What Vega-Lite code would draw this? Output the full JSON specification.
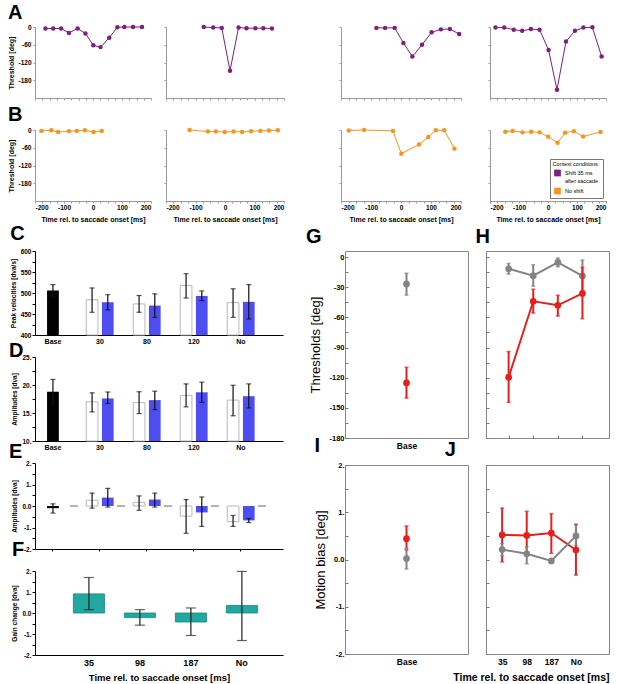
{
"$schema": "https://vega.github.io/schema/vega-lite/v6.json",
"background": "white",
"padding": {"left": 7, "top": 3, "right": 2, "bottom": 2},
"spacing": 1,
"resolve": {"scale": {"color": "independent"}, "legend": {"color": "independent"}},
"config": {
  "font": "Liberation Sans",
  "view": {"stroke": null},
  "axis": {"grid": false, "labelFont": "Liberation Sans", "titleFont": "Liberation Sans", "labelFontWeight": "bold", "titleFontWeight": "bold", "labelColor": "#000", "titleColor": "#000", "domainColor": "#555", "tickColor": "#555", "labelFontSize": 6.5, "titleFontSize": 7, "labelOverlap": false},
  "title": {"fontSize": 20, "fontWeight": "bold", "anchor": "start", "frame": "bounds", "color": "#000", "offset": 4, "font": "Liberation Sans"}
},
"datasets": {
  "a1": [{"t":-164,"thr":-5},{"t":-137,"thr":-5},{"t":-110,"thr":-5},{"t":-83,"thr":-20},{"t":-53,"thr":-5},{"t":-26,"thr":-22},{"t":1,"thr":-62},{"t":26,"thr":-68},{"t":56,"thr":-36},{"t":84,"thr":-1},{"t":108,"thr":0},{"t":138,"thr":0},{"t":169,"thr":0}],
  "a2": [{"t":-72,"thr":0},{"t":-40,"thr":-2},{"t":-11,"thr":-3},{"t":17,"thr":-148},{"t":46,"thr":-2},{"t":73,"thr":-4},{"t":103,"thr":-4},{"t":130,"thr":-4},{"t":159,"thr":-5}],
  "a3": [{"t":-82,"thr":-3},{"t":-53,"thr":-3},{"t":-21,"thr":-3},{"t":8,"thr":-54},{"t":38,"thr":-100},{"t":70,"thr":-60},{"t":102,"thr":-18},{"t":133,"thr":-8},{"t":163,"thr":-7},{"t":194,"thr":-24}],
  "a4": [{"t":-181,"thr":-2},{"t":-151,"thr":-2},{"t":-118,"thr":-9},{"t":-89,"thr":-13},{"t":-59,"thr":-7},{"t":-29,"thr":-9},{"t":2,"thr":-78},{"t":31,"thr":-212},{"t":62,"thr":-49},{"t":93,"thr":-13},{"t":122,"thr":-2},{"t":153,"thr":-1},{"t":185,"thr":-100}],
  "b1": [{"t":-178,"thr":-3},{"t":-144,"thr":-1},{"t":-120,"thr":-7},{"t":-83,"thr":-4},{"t":-56,"thr":-3},{"t":-28,"thr":-1},{"t":2,"thr":-7},{"t":30,"thr":-3}],
  "b2": [{"t":-120,"thr":0},{"t":-58,"thr":-5},{"t":-31,"thr":-5},{"t":-1,"thr":-7},{"t":29,"thr":-5},{"t":58,"thr":-7},{"t":88,"thr":-4},{"t":120,"thr":-3},{"t":149,"thr":-2},{"t":179,"thr":-1}],
  "b3": [{"t":-174,"thr":-2},{"t":-123,"thr":0},{"t":-27,"thr":-3},{"t":1,"thr":-80},{"t":60,"thr":-49},{"t":91,"thr":-24},{"t":116,"thr":-1},{"t":144,"thr":-1},{"t":178,"thr":-63}],
  "b4": [{"t":-147,"thr":-6},{"t":-122,"thr":-3},{"t":-88,"thr":-8},{"t":-58,"thr":-6},{"t":-29,"thr":-8},{"t":1,"thr":-23},{"t":33,"thr":-43},{"t":59,"thr":-9},{"t":89,"thr":-4},{"t":121,"thr":-22},{"t":181,"thr":-7}],
  "c": [{"group":"Base","cond":"base","v":506,"lo":490,"hi":520},{"group":"30","cond":"ctrl","v":484,"lo":454,"hi":512},{"group":"30","cond":"shift","v":478,"lo":460,"hi":496},{"group":"80","cond":"ctrl","v":474,"lo":454,"hi":494},{"group":"80","cond":"shift","v":470,"lo":442,"hi":498},{"group":"120","cond":"ctrl","v":518,"lo":488,"hi":546},{"group":"120","cond":"shift","v":493,"lo":482,"hi":505},{"group":"No","cond":"ctrl","v":477,"lo":442,"hi":510},{"group":"No","cond":"shift","v":479,"lo":438,"hi":520}],
  "d": [{"group":"Base","cond":"base","v":18.8,"lo":16.6,"hi":21.0},{"group":"30","cond":"ctrl","v":17.0,"lo":15.2,"hi":18.6},{"group":"30","cond":"shift","v":17.6,"lo":16.7,"hi":18.75},{"group":"80","cond":"ctrl","v":16.85,"lo":14.9,"hi":18.8},{"group":"80","cond":"shift","v":17.3,"lo":15.6,"hi":18.9},{"group":"120","cond":"ctrl","v":18.15,"lo":16.1,"hi":20.2},{"group":"120","cond":"shift","v":18.7,"lo":16.9,"hi":20.5},{"group":"No","cond":"ctrl","v":17.3,"lo":14.5,"hi":19.95},{"group":"No","cond":"shift","v":18.0,"lo":15.9,"hi":20.2}],
  "e": [{"group":"Base","cond":"base","v":-0.1,"lo":-0.33,"hi":0.1},{"group":"30","cond":"ctrl","v":0.27,"lo":-0.1,"hi":0.6},{"group":"30","cond":"shift","v":0.39,"lo":-0.05,"hi":0.82},{"group":"80","cond":"ctrl","v":0.17,"lo":-0.2,"hi":0.47},{"group":"80","cond":"shift","v":0.3,"lo":-0.05,"hi":0.6},{"group":"120","cond":"ctrl","v":-0.47,"lo":-1.27,"hi":0.3},{"group":"120","cond":"shift","v":-0.3,"lo":-0.95,"hi":0.42},{"group":"No","cond":"ctrl","v":-0.72,"lo":-0.95,"hi":-0.44},{"group":"No","cond":"shift","v":-0.67,"lo":-0.77,"hi":-0.58}],
  "f": [{"group":"35","v":0.91,"lo":0.16,"hi":1.69},{"group":"98","v":-0.22,"lo":-0.58,"hi":0.16},{"group":"187","v":-0.43,"lo":-1.07,"hi":0.24},{"group":"No","v":0.36,"lo":-1.31,"hi":1.98}],
  "g": [{"group":"Base","s":"gray","v":-26.8,"lo":-37.9,"hi":-16.1},{"group":"Base","s":"red","v":-125.2,"lo":-140.3,"hi":-109.7}],
  "h": [{"group":"35","s":"gray","v":-11.7,"lo":-17,"hi":-6.4},{"group":"98","s":"gray","v":-18.5,"lo":-29,"hi":-7.7},{"group":"187","s":"gray","v":-5.4,"lo":-9.7,"hi":-1},{"group":"No","s":"gray","v":-18.8,"lo":-34,"hi":-3},{"group":"35","s":"red","v":-119.5,"lo":-144.6,"hi":-94},{"group":"98","s":"red","v":-44,"lo":-55.7,"hi":-32},{"group":"187","s":"red","v":-48,"lo":-58.7,"hi":-38},{"group":"No","s":"red","v":-36.2,"lo":-61.4,"hi":-10.4}],
  "i": [{"group":"Base","s":"red","v":0.44,"lo":0.2,"hi":0.71},{"group":"Base","s":"gray","v":0.02,"lo":-0.2,"hi":0.24}],
  "j": [{"group":"35","s":"red","v":0.52,"lo":-0.05,"hi":1.09},{"group":"98","s":"red","v":0.51,"lo":0.1,"hi":1.02},{"group":"187","s":"red","v":0.56,"lo":0.13,"hi":0.97},{"group":"No","s":"red","v":0.2,"lo":-0.33,"hi":0.75},{"group":"35","s":"gray","v":0.21,"lo":0.08,"hi":0.34},{"group":"98","s":"gray","v":0.12,"lo":-0.09,"hi":0.27},{"group":"187","s":"gray","v":-0.03,"lo":-0.06,"hi":0.0},{"group":"No","s":"gray","v":0.5,"lo":0.3,"hi":0.73}]
},
"vconcat": [
 {"spacing": 53,
  "resolve": {"scale": {"color": "independent"}, "legend": {"color": "independent"}},
  "hconcat": [
   {"bounds": "flush", "columns": 2, "spacing": {"row": 32, "column": 15},
    "concat": [
       {"width": 116, "height": 71, "title": {"text": "A", "offset": 1}, "data": {"name": "a1"},
        "encoding": {
          "x": {"field": "t", "type": "quantitative", "scale": {"domain": [-200, 200], "nice": false}, "axis": {"values": [-200,-175,-150,-125,-100,-75,-50,-25,0,25,50,75,100,125,150,175,200], "labels": false, "title": null, "tickSize": 2, "domainColor": "#999", "tickColor": "#999"}},
          "y": {"field": "thr", "type": "quantitative", "scale": {"domain": [-240, 0], "nice": false}, "axis": {"values": [0,-60,-120,-180], "labelExpr": "replace(datum.label, '−', '-')", "title": "Threshold [deg]", "titlePadding": 3, "labelPadding": 2, "tickSize": 2, "domainColor": "#999", "tickColor": "#999"}}
        },
        "layer": [
          {"mark": {"type": "line", "color": "#7E1E80", "strokeWidth": 1}, "encoding": {}},
          {"mark": {"type": "circle", "color": "#7E1E80", "size": 20, "opacity": 1}, "encoding": {}}
        ]},
       {"width": 118, "height": 71, "data": {"name": "a2"},
        "encoding": {
          "x": {"field": "t", "type": "quantitative", "scale": {"domain": [-200, 200], "nice": false}, "axis": {"values": [-200,-175,-150,-125,-100,-75,-50,-25,0,25,50,75,100,125,150,175,200], "labels": false, "title": null, "tickSize": 2, "domainColor": "#999", "tickColor": "#999"}},
          "y": {"field": "thr", "type": "quantitative", "scale": {"domain": [-240, 0], "nice": false}, "axis": {"values": [0,-60,-120,-180], "labels": false, "title": null, "tickSize": 2, "domainColor": "#999", "tickColor": "#999"}}
        },
        "layer": [
          {"mark": {"type": "line", "color": "#7E1E80", "strokeWidth": 1}, "encoding": {}},
          {"mark": {"type": "circle", "color": "#7E1E80", "size": 20, "opacity": 1}, "encoding": {}}
        ]},
       {"width": 116, "height": 71, "title": {"text": "B", "offset": 2}, "data": {"name": "b1"},
        "encoding": {
          "x": {"field": "t", "type": "quantitative", "scale": {"domain": [-200, 200], "nice": false}, "axis": {"values": [-200,-175,-150,-125,-100,-75,-50,-25,0,25,50,75,100,125,150,175,200], "labelExpr": "datum.value % 100 === 0 ? replace(datum.label, '−', '-') : ''", "labelPadding": 1, "title": "Time rel. to saccade onset [ms]", "titlePadding": 5, "tickSize": 2, "domainColor": "#999", "tickColor": "#999"}},
          "y": {"field": "thr", "type": "quantitative", "scale": {"domain": [-240, 0], "nice": false}, "axis": {"values": [0,-60,-120,-180], "labelExpr": "replace(datum.label, '−', '-')", "title": "Threshold [deg]", "titlePadding": 3, "labelPadding": 2, "tickSize": 2, "domainColor": "#999", "tickColor": "#999"}}
        },
        "layer": [
          {"mark": {"type": "line", "color": "#F7941E", "strokeWidth": 1}, "encoding": {}},
          {"mark": {"type": "circle", "color": "#F7941E", "size": 20, "opacity": 1}, "encoding": {}}
        ]},
       {"width": 118, "height": 71, "data": {"name": "b2"},
        "encoding": {
          "x": {"field": "t", "type": "quantitative", "scale": {"domain": [-200, 200], "nice": false}, "axis": {"values": [-200,-175,-150,-125,-100,-75,-50,-25,0,25,50,75,100,125,150,175,200], "labelExpr": "datum.value % 100 === 0 ? replace(datum.label, '−', '-') : ''", "labelPadding": 1, "title": "Time rel. to saccade onset [ms]", "titlePadding": 5, "tickSize": 2, "domainColor": "#999", "tickColor": "#999"}},
          "y": {"field": "thr", "type": "quantitative", "scale": {"domain": [-240, 0], "nice": false}, "axis": {"values": [0,-60,-120,-180], "labels": false, "title": null, "tickSize": 2, "domainColor": "#999", "tickColor": "#999"}}
        },
        "layer": [
          {"mark": {"type": "line", "color": "#F7941E", "strokeWidth": 1}, "encoding": {}},
          {"mark": {"type": "circle", "color": "#F7941E", "size": 20, "opacity": 1}, "encoding": {}}
        ]}
    ]},
   {"bounds": "flush", "columns": 2, "spacing": {"row": 32, "column": 29},
    "resolve": {"scale": {"color": "independent"}, "legend": {"color": "independent"}},
    "concat": [
       {"width": 120, "height": 71, "data": {"name": "a3"},
        "encoding": {
          "x": {"field": "t", "type": "quantitative", "scale": {"domain": [-200, 200], "nice": false}, "axis": {"values": [-200,-175,-150,-125,-100,-75,-50,-25,0,25,50,75,100,125,150,175,200], "labels": false, "title": null, "tickSize": 2, "domainColor": "#999", "tickColor": "#999"}},
          "y": {"field": "thr", "type": "quantitative", "scale": {"domain": [-240, 0], "nice": false}, "axis": {"values": [0,-60,-120,-180], "labels": false, "title": null, "tickSize": 2, "domainColor": "#999", "tickColor": "#999"}}
        },
        "layer": [
          {"mark": {"type": "line", "color": "#7E1E80", "strokeWidth": 1}, "encoding": {}},
          {"mark": {"type": "circle", "color": "#7E1E80", "size": 20, "opacity": 1}, "encoding": {}}
        ]},
       {"width": 116, "height": 71, "data": {"name": "a4"},
        "encoding": {
          "x": {"field": "t", "type": "quantitative", "scale": {"domain": [-200, 200], "nice": false}, "axis": {"values": [-200,-175,-150,-125,-100,-75,-50,-25,0,25,50,75,100,125,150,175,200], "labels": false, "title": null, "tickSize": 2, "domainColor": "#999", "tickColor": "#999"}},
          "y": {"field": "thr", "type": "quantitative", "scale": {"domain": [-240, 0], "nice": false}, "axis": {"values": [0,-60,-120,-180], "labels": false, "title": null, "tickSize": 2, "domainColor": "#999", "tickColor": "#999"}}
        },
        "layer": [
          {"mark": {"type": "line", "color": "#7E1E80", "strokeWidth": 1}, "encoding": {}},
          {"mark": {"type": "circle", "color": "#7E1E80", "size": 20, "opacity": 1}, "encoding": {}}
        ]},
       {"width": 120, "height": 71, "data": {"name": "b3"},
        "encoding": {
          "x": {"field": "t", "type": "quantitative", "scale": {"domain": [-200, 200], "nice": false}, "axis": {"values": [-200,-175,-150,-125,-100,-75,-50,-25,0,25,50,75,100,125,150,175,200], "labelExpr": "datum.value % 100 === 0 ? replace(datum.label, '−', '-') : ''", "labelPadding": 1, "title": "Time rel. to saccade onset [ms]", "titlePadding": 5, "tickSize": 2, "domainColor": "#999", "tickColor": "#999"}},
          "y": {"field": "thr", "type": "quantitative", "scale": {"domain": [-240, 0], "nice": false}, "axis": {"values": [0,-60,-120,-180], "labels": false, "title": null, "tickSize": 2, "domainColor": "#999", "tickColor": "#999"}}
        },
        "layer": [
          {"mark": {"type": "line", "color": "#F7941E", "strokeWidth": 1}, "encoding": {}},
          {"mark": {"type": "circle", "color": "#F7941E", "size": 20, "opacity": 1}, "encoding": {}}
        ]},
       {"width": 116, "height": 71, "data": {"name": "b4"},
        "encoding": {
          "x": {"field": "t", "type": "quantitative", "scale": {"domain": [-200, 200], "nice": false}, "axis": {"values": [-200,-175,-150,-125,-100,-75,-50,-25,0,25,50,75,100,125,150,175,200], "labelExpr": "datum.value % 100 === 0 ? replace(datum.label, '−', '-') : ''", "labelPadding": 1, "title": "Time rel. to saccade onset [ms]", "titlePadding": 5, "tickSize": 2, "domainColor": "#999", "tickColor": "#999"}},
          "y": {"field": "thr", "type": "quantitative", "scale": {"domain": [-240, 0], "nice": false}, "axis": {"values": [0,-60,-120,-180], "labels": false, "title": null, "tickSize": 2, "domainColor": "#999", "tickColor": "#999"}}
        },
        "layer": [
          {"mark": {"type": "line", "color": "#F7941E", "strokeWidth": 1}, "encoding": {}},
          {"mark": {"type": "circle", "size": 20, "opacity": 1},
           "encoding": {"color": {"datum": "No shift", "type": "nominal",
             "scale": {"domain": ["Shift 35 ms after saccade", "No shift"], "range": ["#7E1E80", "#F7941E"]},
             "legend": {"title": "Context conditions:", "titleAnchor": "middle", "orient": "bottom-right", "offset": 3, "symbolType": "square", "symbolSize": 45, "symbolStrokeWidth": 0, "titleFontSize": 5.5, "titleFontWeight": "normal", "labelFontSize": 5.5, "labelFontWeight": "normal", "titlePadding": 2, "rowPadding": 3, "padding": 3, "strokeColor": "#777", "fillColor": "white", "labelExpr": "datum.label === 'Shift 35 ms after saccade' ? ['Shift 35 ms', 'after saccade'] : datum.label"}}}}
        ]}
    ]}
  ]},
 {"spacing": 22,
  "resolve": {"scale": {"xOffset": "independent"}},
  "hconcat": [
   {"bounds": "flush", "spacing": 22,
    "resolve": {"scale": {"xOffset": "independent"}},
    "vconcat": [
       {"width": 248, "height": 84, "title": {"text": "C", "offset": 4}, "data": {"name": "c"},
        "encoding": {
          "x": {"field": "group", "type": "nominal", "scale": {"type": "band", "domain": ["Base","30","80","120","No"], "paddingInner": 0.417, "paddingOuter": 0.347, "align": 0.13}, "axis": {"title": null, "ticks": false, "labelAngle": 0, "labelFontSize": 7, "labelPadding": 2, "domainColor": "#000"}},
          "y": {"field": "v", "type": "quantitative", "scale": {"domain": [400, 600], "nice": false, "zero": false}, "axis": {"values": [400,425,450,475,500,525,550,575,600], "labelExpr": "datum.value % 50 === 0 ? datum.label : ''", "title": "Peak velocities [dva/s]", "titleFontSize": 6.5, "titlePadding": 4, "labelPadding": 1, "tickSize": 3, "domainColor": "#000", "tickColor": "#000"}}
        },
        "layer": [
          {"transform": [{"filter": "datum.cond === 'base'"}], "mark": {"type": "bar", "color": "#000", "width": {"band": 0.43}}, "encoding": {"y2": {"datum": 400}}},
          {"transform": [{"filter": "datum.cond === 'ctrl'"}], "mark": {"type": "bar", "fill": "#fff", "stroke": "#b8b8b8", "strokeWidth": 1}, "encoding": {"xOffset": {"field": "cond", "type": "nominal", "scale": {"domain": ["ctrl","shift"], "paddingInner": 0.255, "paddingOuter": 0}}, "y2": {"datum": 400}}},
          {"transform": [{"filter": "datum.cond === 'shift'"}], "mark": {"type": "bar", "color": "#4D4DF2"}, "encoding": {"xOffset": {"field": "cond", "type": "nominal", "scale": {"domain": ["ctrl","shift"], "paddingInner": 0.255, "paddingOuter": 0}}, "y2": {"datum": 400}}},
          {"transform": [{"filter": "datum.cond === 'base'"}], "mark": {"type": "rule", "color": "#111", "strokeWidth": 1.2}, "encoding": {"y": {"field": "lo", "type": "quantitative"}, "y2": {"field": "hi"}}},
          {"transform": [{"filter": "datum.cond !== 'base'"}], "mark": {"type": "rule", "color": "#111", "strokeWidth": 1.2}, "encoding": {"xOffset": {"field": "cond", "type": "nominal", "scale": {"domain": ["ctrl","shift"], "paddingInner": 0.255, "paddingOuter": 0}}, "y": {"field": "lo", "type": "quantitative"}, "y2": {"field": "hi"}}},
          {"transform": [{"filter": "datum.cond === 'base'"}, {"fold": ["lo","hi"], "as": ["end","val"]}], "mark": {"type": "tick", "color": "#111", "thickness": 1.2, "size": 5}, "encoding": {"y": {"field": "val", "type": "quantitative"}}},
          {"transform": [{"filter": "datum.cond !== 'base'"}, {"fold": ["lo","hi"], "as": ["end","val"]}], "mark": {"type": "tick", "color": "#111", "thickness": 1.2, "size": 5}, "encoding": {"xOffset": {"field": "cond", "type": "nominal", "scale": {"domain": ["ctrl","shift"], "paddingInner": 0.255, "paddingOuter": 0}}, "y": {"field": "val", "type": "quantitative"}}}
        ]},
       {"width": 248, "height": 84, "title": {"text": "D", "offset": -7, "dx": -3}, "data": {"name": "d"},
        "encoding": {
          "x": {"field": "group", "type": "nominal", "scale": {"type": "band", "domain": ["Base","30","80","120","No"], "paddingInner": 0.417, "paddingOuter": 0.347, "align": 0.13}, "axis": {"title": null, "ticks": false, "labelAngle": 0, "labelFontSize": 7, "labelPadding": 2, "domainColor": "#000"}},
          "y": {"field": "v", "type": "quantitative", "scale": {"domain": [10, 25], "nice": false, "zero": false}, "axis": {"values": [10,12.5,15,17.5,20,22.5,25], "labelExpr": "datum.value % 5 === 0 ? format(datum.value, 'd') + '.' : ''", "title": "Amplitudes [dva]", "titleFontSize": 6.5, "titlePadding": 4, "labelPadding": 1, "tickSize": 3, "domainColor": "#000", "tickColor": "#000"}}
        },
        "layer": [
          {"transform": [{"filter": "datum.cond === 'base'"}], "mark": {"type": "bar", "color": "#000", "width": {"band": 0.43}}, "encoding": {"y2": {"datum": 10}}},
          {"transform": [{"filter": "datum.cond === 'ctrl'"}], "mark": {"type": "bar", "fill": "#fff", "stroke": "#b8b8b8", "strokeWidth": 1}, "encoding": {"xOffset": {"field": "cond", "type": "nominal", "scale": {"domain": ["ctrl","shift"], "paddingInner": 0.255, "paddingOuter": 0}}, "y2": {"datum": 10}}},
          {"transform": [{"filter": "datum.cond === 'shift'"}], "mark": {"type": "bar", "color": "#4D4DF2"}, "encoding": {"xOffset": {"field": "cond", "type": "nominal", "scale": {"domain": ["ctrl","shift"], "paddingInner": 0.255, "paddingOuter": 0}}, "y2": {"datum": 10}}},
          {"transform": [{"filter": "datum.cond === 'base'"}], "mark": {"type": "rule", "color": "#111", "strokeWidth": 1.2}, "encoding": {"y": {"field": "lo", "type": "quantitative"}, "y2": {"field": "hi"}}},
          {"transform": [{"filter": "datum.cond !== 'base'"}], "mark": {"type": "rule", "color": "#111", "strokeWidth": 1.2}, "encoding": {"xOffset": {"field": "cond", "type": "nominal", "scale": {"domain": ["ctrl","shift"], "paddingInner": 0.255, "paddingOuter": 0}}, "y": {"field": "lo", "type": "quantitative"}, "y2": {"field": "hi"}}},
          {"transform": [{"filter": "datum.cond === 'base'"}, {"fold": ["lo","hi"], "as": ["end","val"]}], "mark": {"type": "tick", "color": "#111", "thickness": 1.2, "size": 5}, "encoding": {"y": {"field": "val", "type": "quantitative"}}},
          {"transform": [{"filter": "datum.cond !== 'base'"}, {"fold": ["lo","hi"], "as": ["end","val"]}], "mark": {"type": "tick", "color": "#111", "thickness": 1.2, "size": 5}, "encoding": {"xOffset": {"field": "cond", "type": "nominal", "scale": {"domain": ["ctrl","shift"], "paddingInner": 0.255, "paddingOuter": 0}}, "y": {"field": "val", "type": "quantitative"}}}
        ]},
       {"width": 248, "height": 86, "title": {"text": "E", "offset": -2, "dx": -3}, "data": {"name": "e"},
        "encoding": {
          "x": {"field": "group", "type": "nominal", "scale": {"type": "band", "domain": ["Base","30","80","120","No"], "paddingInner": 0.417, "paddingOuter": 0.347, "align": 0.13}, "axis": {"title": null, "labels": false, "tickSize": 2, "domainColor": "#000", "tickColor": "#000"}},
          "y": {"field": "v", "type": "quantitative", "scale": {"domain": [-2, 2], "nice": false}, "axis": {"values": [-2,-1.5,-1,-0.5,0,0.5,1,1.5,2], "labelExpr": "datum.value === 0 ? '0.0' : (datum.value % 1 === 0 ? replace(format(datum.value, 'd'), '−', '-') + '.' : '')", "title": "Amplitudes [dva]", "titleFontSize": 6.5, "titlePadding": 4, "labelPadding": 1, "tickSize": 3, "domainColor": "#000", "tickColor": "#000"}}
        },
        "layer": [
          {"transform": [{"filter": "datum.cond !== 'shift'"}], "mark": {"type": "tick", "color": "#222", "thickness": 1, "size": 8, "xOffset": 21}, "encoding": {"y": {"datum": 0}}},
          {"transform": [{"filter": "datum.cond === 'base'"}], "mark": {"type": "bar", "color": "#000", "width": {"band": 0.43}}, "encoding": {"y2": {"datum": 0}}},
          {"transform": [{"filter": "datum.cond === 'ctrl'"}], "mark": {"type": "bar", "fill": "#fff", "stroke": "#b8b8b8", "strokeWidth": 1}, "encoding": {"xOffset": {"field": "cond", "type": "nominal", "scale": {"domain": ["ctrl","shift"], "paddingInner": 0.255, "paddingOuter": 0}}, "y2": {"datum": 0}}},
          {"transform": [{"filter": "datum.cond === 'shift'"}], "mark": {"type": "bar", "color": "#4D4DF2"}, "encoding": {"xOffset": {"field": "cond", "type": "nominal", "scale": {"domain": ["ctrl","shift"], "paddingInner": 0.255, "paddingOuter": 0}}, "y2": {"datum": 0}}},
          {"transform": [{"filter": "datum.cond === 'base'"}], "mark": {"type": "rule", "color": "#111", "strokeWidth": 1.2}, "encoding": {"y": {"field": "lo", "type": "quantitative"}, "y2": {"field": "hi"}}},
          {"transform": [{"filter": "datum.cond !== 'base'"}], "mark": {"type": "rule", "color": "#111", "strokeWidth": 1.2}, "encoding": {"xOffset": {"field": "cond", "type": "nominal", "scale": {"domain": ["ctrl","shift"], "paddingInner": 0.255, "paddingOuter": 0}}, "y": {"field": "lo", "type": "quantitative"}, "y2": {"field": "hi"}}},
          {"transform": [{"filter": "datum.cond === 'base'"}, {"fold": ["lo","hi"], "as": ["end","val"]}], "mark": {"type": "tick", "color": "#111", "thickness": 1.2, "size": 5}, "encoding": {"y": {"field": "val", "type": "quantitative"}}},
          {"transform": [{"filter": "datum.cond !== 'base'"}, {"fold": ["lo","hi"], "as": ["end","val"]}], "mark": {"type": "tick", "color": "#111", "thickness": 1.2, "size": 5}, "encoding": {"xOffset": {"field": "cond", "type": "nominal", "scale": {"domain": ["ctrl","shift"], "paddingInner": 0.255, "paddingOuter": 0}}, "y": {"field": "val", "type": "quantitative"}}}
        ]},
       {"width": 248, "height": 84, "title": {"text": "F", "offset": 8}, "data": {"name": "f"},
        "encoding": {
          "x": {"field": "group", "type": "nominal", "scale": {"type": "band", "domain": ["35","98","187","No"], "paddingInner": 0.39, "paddingOuter": 0.627, "align": 0.6}, "axis": {"title": "Time rel. to saccade onset [ms]", "titleFontSize": 9.5, "titlePadding": 5, "ticks": false, "labelAngle": 0, "labelFontSize": 9, "labelPadding": 3, "domainColor": "#000"}},
          "y": {"field": "v", "type": "quantitative", "scale": {"domain": [-2, 2], "nice": false}, "axis": {"values": [-2,-1.5,-1,-0.5,0,0.5,1,1.5,2], "labelExpr": "datum.value === 0 ? '0.0' : (datum.value % 1 === 0 ? replace(format(datum.value, 'd'), '−', '-') + '.' : '')", "title": "Gain change [dva]", "titleFontSize": 6.5, "titlePadding": 4, "labelPadding": 1, "tickSize": 3, "domainColor": "#000", "tickColor": "#000"}}
        },
        "layer": [
          {"mark": {"type": "bar", "fill": "#22A8A1", "stroke": "#178580", "strokeWidth": 0.8}, "encoding": {"y2": {"datum": 0}}},
          {"mark": {"type": "rule", "color": "#222", "strokeWidth": 1.2}, "encoding": {"y": {"field": "lo", "type": "quantitative"}, "y2": {"field": "hi"}}},
          {"transform": [{"fold": ["lo","hi"], "as": ["end","val"]}], "mark": {"type": "tick", "color": "#222", "thickness": 1.2, "size": 10}, "encoding": {"y": {"field": "val", "type": "quantitative"}}}
        ]}
    ]},
   {"bounds": "flush", "columns": 2, "spacing": {"row": 27, "column": 18},
    "concat": [
       {"width": 123, "height": 187, "view": {"stroke": "#888", "strokeWidth": 1}, "title": {"text": "G", "dx": -4, "offset": 4}, "data": {"name": "g"},
        "encoding": {
          "x": {"field": "group", "type": "nominal", "scale": {"type": "point", "domain": ["Base"], "padding": 0.5}, "axis": {"title": null, "ticks": false, "domain": false, "labelAngle": 0, "labelFontSize": 8.5, "labelPadding": 3}},
          "y": {"field": "v", "type": "quantitative", "scale": {"domain": [-180, 6], "nice": false, "zero": false}, "axis": {"values": [-180,-165,-150,-135,-120,-105,-90,-75,-60,-45,-30,-15,0], "labelExpr": "datum.value % 30 === 0 ? replace(datum.label, '−', '-') : ''", "title": "Thresholds [deg]", "titleFontSize": 13, "titleFontWeight": "normal", "titlePadding": 6, "labelFontSize": 7.5, "labelPadding": 4, "tickSize": -3, "domain": false, "tickColor": "#777"}}
        },
        "layer": [
          {"transform": [{"filter": "datum.s === 'gray'"}], "layer": [
            {"mark": {"type": "rule", "color": "#838383", "strokeWidth": 2}, "encoding": {"y": {"field": "lo", "type": "quantitative"}, "y2": {"field": "hi"}}},
            {"transform": [{"fold": ["lo","hi"], "as": ["end","val"]}], "mark": {"type": "tick", "color": "#838383", "thickness": 1.5, "size": 4}, "encoding": {"y": {"field": "val", "type": "quantitative"}}},
            {"mark": {"type": "circle", "color": "#838383", "size": 45, "opacity": 1}, "encoding": {}}
          ]},
          {"transform": [{"filter": "datum.s === 'red'"}], "layer": [
            {"mark": {"type": "rule", "color": "#E5201C", "strokeWidth": 2}, "encoding": {"y": {"field": "lo", "type": "quantitative"}, "y2": {"field": "hi"}}},
            {"transform": [{"fold": ["lo","hi"], "as": ["end","val"]}], "mark": {"type": "tick", "color": "#E5201C", "thickness": 1.5, "size": 4}, "encoding": {"y": {"field": "val", "type": "quantitative"}}},
            {"mark": {"type": "circle", "color": "#E5201C", "size": 45, "opacity": 1}, "encoding": {}}
          ]}
        ]},
       {"width": 123, "height": 187, "view": {"stroke": "#888", "strokeWidth": 1}, "title": {"text": "H", "dx": -10, "offset": 4}, "data": {"name": "h"},
        "encoding": {
          "x": {"field": "group", "type": "nominal", "scale": {"type": "point", "domain": ["35","98","187","No"], "padding": 1.19, "align": 0.46}, "axis": {"title": null, "labels": false, "tickSize": -3, "domain": false, "tickColor": "#777"}},
          "y": {"field": "v", "type": "quantitative", "scale": {"domain": [-180, 6], "nice": false, "zero": false}, "axis": {"values": [-180,-165,-150,-135,-120,-105,-90,-75,-60,-45,-30,-15,0], "labels": false, "title": null, "tickSize": -3, "domain": false, "tickColor": "#777"}}
        },
        "layer": [
          {"transform": [{"filter": "datum.s === 'gray'"}], "layer": [
            {"mark": {"type": "rule", "color": "#838383", "strokeWidth": 2}, "encoding": {"y": {"field": "lo", "type": "quantitative"}, "y2": {"field": "hi"}}},
            {"transform": [{"fold": ["lo","hi"], "as": ["end","val"]}], "mark": {"type": "tick", "color": "#838383", "thickness": 1.5, "size": 4}, "encoding": {"y": {"field": "val", "type": "quantitative"}}},
            {"mark": {"type": "line", "color": "#838383", "strokeWidth": 2}, "encoding": {"order": {"value": null}}},
            {"mark": {"type": "circle", "color": "#838383", "size": 45, "opacity": 1}, "encoding": {}}
          ]},
          {"transform": [{"filter": "datum.s === 'red'"}], "layer": [
            {"mark": {"type": "rule", "color": "#E5201C", "strokeWidth": 2}, "encoding": {"y": {"field": "lo", "type": "quantitative"}, "y2": {"field": "hi"}}},
            {"transform": [{"fold": ["lo","hi"], "as": ["end","val"]}], "mark": {"type": "tick", "color": "#E5201C", "thickness": 1.5, "size": 4}, "encoding": {"y": {"field": "val", "type": "quantitative"}}},
            {"mark": {"type": "line", "color": "#E5201C", "strokeWidth": 2}, "encoding": {"order": {"value": null}}},
            {"mark": {"type": "circle", "color": "#E5201C", "size": 45, "opacity": 1}, "encoding": {}}
          ]}
        ]},
       {"width": 123, "height": 189, "view": {"stroke": "#888", "strokeWidth": 1}, "title": {"text": "I", "offset": 5}, "data": {"name": "i"},
        "encoding": {
          "x": {"field": "group", "type": "nominal", "scale": {"type": "point", "domain": ["Base"], "padding": 0.5}, "axis": {"title": null, "ticks": false, "domain": false, "labelAngle": 0, "labelFontSize": 8.5, "labelPadding": 3}},
          "y": {"field": "v", "type": "quantitative", "scale": {"domain": [-2, 2], "nice": false}, "axis": {"values": [-2,-1.5,-1,-0.5,0,0.5,1,1.5,2], "labelExpr": "datum.value === 0 ? '0.0' : (datum.value % 1 === 0 ? replace(format(datum.value, 'd'), '−', '-') + '.' : '')", "title": "Motion bias [deg]", "titleFontSize": 13, "titleFontWeight": "normal", "titlePadding": 6, "labelFontSize": 7.5, "labelPadding": 4, "tickSize": -3, "domain": false, "tickColor": "#777"}}
        },
        "layer": [
          {"data": {"values": [{}]}, "mark": {"type": "rule", "color": "#777", "strokeDash": [2, 2], "strokeWidth": 1}, "encoding": {"y": {"datum": 0}}},
          {"transform": [{"filter": "datum.s === 'red'"}], "layer": [
            {"mark": {"type": "rule", "color": "#E5201C", "strokeWidth": 2}, "encoding": {"y": {"field": "lo", "type": "quantitative"}, "y2": {"field": "hi"}}},
            {"transform": [{"fold": ["lo","hi"], "as": ["end","val"]}], "mark": {"type": "tick", "color": "#E5201C", "thickness": 1.5, "size": 4}, "encoding": {"y": {"field": "val", "type": "quantitative"}}},
            {"mark": {"type": "circle", "color": "#E5201C", "size": 45, "opacity": 1}, "encoding": {}}
          ]},
          {"transform": [{"filter": "datum.s === 'gray'"}], "layer": [
            {"mark": {"type": "rule", "color": "#838383", "strokeWidth": 2}, "encoding": {"y": {"field": "lo", "type": "quantitative"}, "y2": {"field": "hi"}}},
            {"transform": [{"fold": ["lo","hi"], "as": ["end","val"]}], "mark": {"type": "tick", "color": "#838383", "thickness": 1.5, "size": 4}, "encoding": {"y": {"field": "val", "type": "quantitative"}}},
            {"mark": {"type": "circle", "color": "#838383", "size": 45, "opacity": 1}, "encoding": {}}
          ]}
        ]},
       {"width": 123, "height": 189, "view": {"stroke": "#888", "strokeWidth": 1}, "title": {"text": "J", "dx": -8, "offset": 5}, "data": {"name": "j"},
        "encoding": {
          "x": {"field": "group", "type": "nominal", "scale": {"type": "point", "domain": ["35","98","187","No"], "padding": 1.477, "align": 0.328}, "axis": {"title": "Time rel. to saccade onset [ms]", "titleFontSize": 10.5, "titleAnchor": "end", "titlePadding": 7, "ticks": false, "domain": false, "labelAngle": 0, "labelFontSize": 8.5, "labelPadding": 3}},
          "y": {"field": "v", "type": "quantitative", "scale": {"domain": [-2, 2], "nice": false}, "axis": {"values": [-2,-1.5,-1,-0.5,0,0.5,1,1.5,2], "labels": false, "title": null, "tickSize": -3, "domain": false, "tickColor": "#777"}}
        },
        "layer": [
          {"data": {"values": [{}]}, "mark": {"type": "rule", "color": "#777", "strokeDash": [2, 2], "strokeWidth": 1}, "encoding": {"y": {"datum": 0}}},
          {"transform": [{"filter": "datum.s === 'red'"}], "layer": [
            {"mark": {"type": "rule", "color": "#E5201C", "strokeWidth": 2}, "encoding": {"y": {"field": "lo", "type": "quantitative"}, "y2": {"field": "hi"}}},
            {"transform": [{"fold": ["lo","hi"], "as": ["end","val"]}], "mark": {"type": "tick", "color": "#E5201C", "thickness": 1.5, "size": 4}, "encoding": {"y": {"field": "val", "type": "quantitative"}}},
            {"mark": {"type": "line", "color": "#E5201C", "strokeWidth": 2}, "encoding": {"order": {"value": null}}},
            {"mark": {"type": "circle", "color": "#E5201C", "size": 45, "opacity": 1}, "encoding": {}}
          ]},
          {"transform": [{"filter": "datum.s === 'gray'"}], "layer": [
            {"mark": {"type": "rule", "color": "#838383", "strokeWidth": 2}, "encoding": {"y": {"field": "lo", "type": "quantitative"}, "y2": {"field": "hi"}}},
            {"transform": [{"fold": ["lo","hi"], "as": ["end","val"]}], "mark": {"type": "tick", "color": "#838383", "thickness": 1.5, "size": 4}, "encoding": {"y": {"field": "val", "type": "quantitative"}}},
            {"mark": {"type": "line", "color": "#838383", "strokeWidth": 2}, "encoding": {"order": {"value": null}}},
            {"mark": {"type": "circle", "color": "#838383", "size": 45, "opacity": 1}, "encoding": {}}
          ]}
        ]}
    ]}
  ]}
]
}
